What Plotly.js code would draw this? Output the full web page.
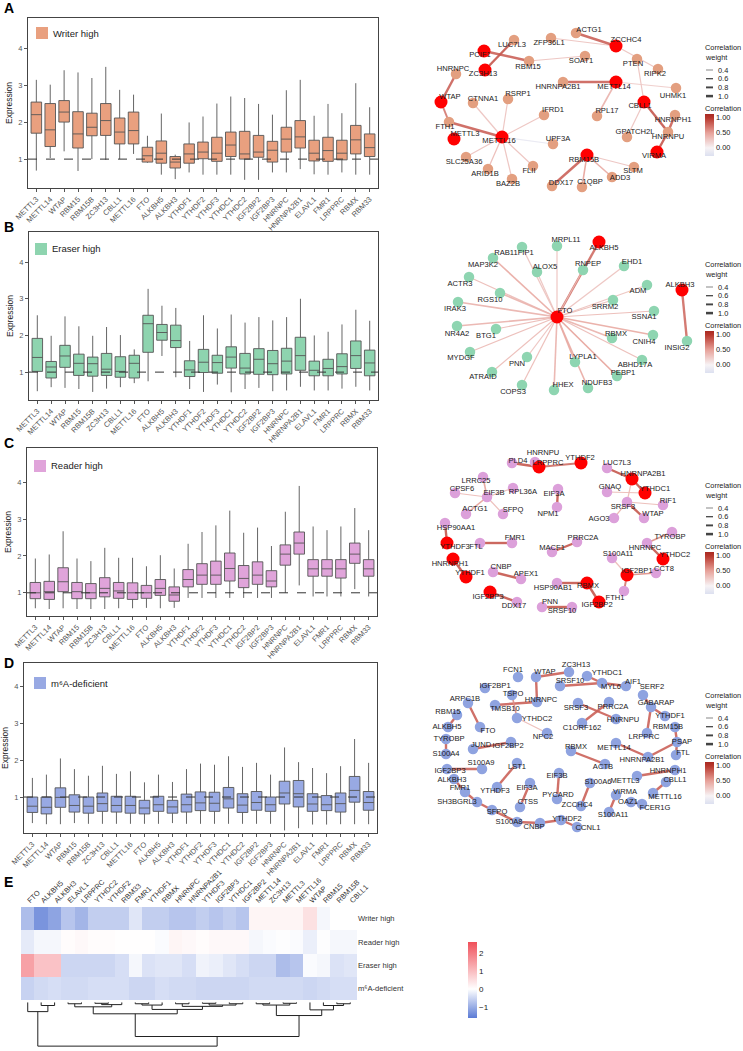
<!DOCTYPE html>
<html><head><meta charset="utf-8">
<script src="https://cdn.plot.ly/plotly-3.0.1.min.js"></script>
<style>html,body{margin:0;padding:0;background:#fff}#plot{width:743px;height:1051px}</style>
</head><body><div id="plot"></div>
<script>
const W=743,H=1051;
const genes=['METTL3','METTL14','WTAP','RBM15','RBM15B','ZC3H13','CBLL1','METTL16','FTO','ALKBH5','ALKBH3','YTHDF1','YTHDF2','YTHDF3','YTHDC1','YTHDC2','IGF2BP2','IGF2BP3','HNRNPC','HNRNPA2B1','ELAVL1','FMR1','LRPPRC','RBMX','RBM33'];

// A: Writer high
const writerLow =[0.69,1.03,1.21,0.68,1.0,0.98,1.0,1.14,0.9,0.58,0.46,0.64,0.58,0.58,0.58,0.44,0.44,0.64,0.64,0.73,0.59,0.58,0.64,0.58,0.58];
const writerQ1  =[1.70,1.34,2.00,1.30,1.63,1.64,1.41,1.41,0.92,0.89,0.76,0.89,1.01,0.94,1.07,1.0,1.05,0.92,1.19,1.30,0.95,0.94,0.98,1.14,1.07];
const writerMed =[2.20,1.79,2.27,1.68,1.86,2.04,1.73,1.77,1.09,1.16,0.92,1.14,1.19,1.16,1.38,1.14,1.19,1.24,1.54,1.60,1.16,1.23,1.16,1.52,1.31];
const writerQ3  =[2.54,2.50,2.58,2.28,2.24,2.50,2.11,2.27,1.32,1.49,1.07,1.41,1.46,1.59,1.73,1.75,1.64,1.48,1.86,2.04,1.51,1.59,1.51,1.91,1.68];
const writerHigh=[3.14,3.01,3.40,3.34,3.19,3.49,2.87,2.74,1.63,2.23,1.12,1.99,2.15,2.50,2.69,2.65,2.49,2.20,2.86,3.14,2.17,2.49,2.24,3.05,2.40];
// B: Eraser high
const eraserLow =[0.48,0.59,0.57,0.54,0.46,0.55,0.59,0.70,0.75,1.44,0.86,0.54,0.46,0.66,0.45,0.54,0.57,0.48,0.5,0.6,0.5,0.5,0.55,0.6,0.5];
const eraserQ1  =[1.02,0.84,1.13,0.91,0.89,0.91,0.86,0.84,1.54,1.87,1.67,0.88,0.99,0.97,1.11,0.95,0.94,0.93,0.95,1.05,0.9,0.9,0.95,1.1,0.9];
const eraserMed =[1.40,1.14,1.44,1.24,1.23,1.08,1.02,1.24,2.32,2.08,1.86,1.06,1.27,1.26,1.41,1.11,1.35,1.23,1.3,1.45,1.05,1.1,1.15,1.45,1.25];
const eraserQ3  =[1.92,1.29,1.73,1.49,1.41,1.51,1.42,1.46,2.55,2.30,2.28,1.31,1.62,1.46,1.69,1.51,1.64,1.59,1.65,1.95,1.3,1.35,1.5,1.85,1.6];
const eraserHigh=[2.55,1.99,2.52,2.25,1.99,2.23,2.01,1.62,3.27,2.81,2.75,1.85,2.55,2.19,2.57,2.35,2.50,2.41,2.5,3.0,2.0,2.1,2.3,2.7,2.4];
// C: Reader high
const readerLow =[0.58,0.56,0.58,0.56,0.56,0.56,0.58,0.58,0.59,0.58,0.59,0.86,0.86,0.86,0.86,0.86,0.86,0.86,1.0,1.2,0.9,0.9,0.9,1.1,0.9];
const readerQ1  =[0.84,0.82,1.03,0.84,0.84,0.89,0.85,0.82,0.85,0.93,0.77,1.16,1.23,1.23,1.32,1.14,1.23,1.16,1.75,2.05,1.45,1.45,1.4,1.8,1.45];
const readerMed =[1.0,1.03,1.30,1.03,1.0,1.12,1.05,1.0,1.0,1.12,0.94,1.36,1.48,1.48,1.66,1.39,1.48,1.32,2.05,2.35,1.65,1.65,1.65,2.05,1.65];
const readerQ3  =[1.28,1.31,1.68,1.28,1.25,1.41,1.28,1.27,1.20,1.36,1.16,1.63,1.79,1.86,2.08,1.74,1.84,1.60,2.3,2.65,1.9,1.9,1.9,2.35,1.9];
const readerHigh=[1.93,2.04,2.67,1.93,1.86,2.22,1.95,1.95,1.72,2.02,1.66,2.33,2.65,2.83,3.23,2.63,2.77,2.27,3.2,3.9,2.8,2.7,2.8,3.3,2.7];
// D: m6A-deficient
const defLow =[0.29,0.26,0.26,0.29,0.27,0.27,0.27,0.27,0.27,0.27,0.29,0.27,0.27,0.27,0.27,0.27,0.27,0.27,0.09,0.15,0.25,0.25,0.26,0.26,0.26];
const defQ1  =[0.58,0.54,0.72,0.59,0.56,0.61,0.59,0.56,0.54,0.61,0.56,0.59,0.63,0.61,0.70,0.58,0.64,0.61,0.81,0.73,0.61,0.63,0.59,0.86,0.64];
const defMed =[0.75,0.72,0.99,0.77,0.75,0.82,0.77,0.77,0.70,0.79,0.73,0.79,0.84,0.83,0.95,0.78,0.85,0.79,1.11,1.09,0.81,0.79,0.82,1.18,0.85];
const defQ3  =[1.0,1.0,1.25,1.06,1.0,1.11,1.02,1.02,0.91,1.02,0.91,1.08,1.14,1.13,1.26,1.09,1.15,1.0,1.43,1.45,1.09,1.04,1.11,1.56,1.15];
const defHigh=[1.52,1.61,2.05,1.76,1.58,1.85,1.63,1.70,1.40,1.61,1.41,1.76,1.91,1.88,2.11,1.82,1.93,1.61,2.35,1.95,1.79,1.65,1.84,2.58,1.93];

// E: heatmap
const hmCols=['FTO','ALKBH5','ALKBH3','ELAVL1','LRPPRC','YTHDC2','YTHDF2','RBM33','FMR1','YTHDF1','RBMX','HNRNPC','HNRNPA2B1','YTHDF3','IGF2BP3','YTHDC1','IGF2BP2','METTL14','ZC3H13','METTL3','METTL16','WTAP','RBM15','RBM15B','CBLL1'];
const hmRows=['Writer high','Reader high','Eraser high','m⁶A-deficient'];
const hmWriter=[-0.8,-1.3,-1.1,-0.7,-0.9,-0.6,-0.6,-0.6,-0.3,-0.6,-0.6,-0.7,-0.7,-0.6,-0.7,-0.6,-0.7,0.15,0.15,0.15,0.15,0.45,-0.1,0.0,0.0];
const hmReader=[-0.25,-0.1,-0.1,0.05,0.1,0.05,0.05,0.02,0.02,0.02,-0.05,0.15,0.1,0.05,0.1,0.1,0.1,-0.1,-0.05,-0.02,-0.05,-0.2,-0.02,-0.1,-0.1];
const hmEraser=[1.4,0.9,0.9,-0.5,-0.5,-0.5,-0.5,-0.4,-0.1,-0.35,-0.3,-0.3,-0.4,-0.15,-0.2,-0.3,-0.4,-0.5,-0.5,-0.8,-0.7,-0.05,-0.1,-0.35,-0.3];
const hmDef=[-0.55,-0.45,-0.4,-0.45,-0.45,-0.4,-0.4,-0.4,-0.5,-0.5,-0.4,-0.45,-0.45,-0.5,-0.5,-0.5,-0.5,-0.45,-0.45,-0.45,-0.45,-0.5,-0.45,-0.4,-0.4];
// dendrogram merges: [clusterA, clusterB, height]; leaves 0..24 in hmCols order, merge k -> id 25+k
const dendroMerges=[[1,2,0.07],[0,25,0.21],[3,4,0.03],[5,6,0.02],[28,7,0.05],[27,29,0.10],[8,9,0.03],[31,10,0.06],[11,12,0.03],[13,14,0.02],[15,16,0.03],[34,35,0.06],[33,36,0.09],[32,37,0.16],[30,38,0.26],[17,18,0.03],[19,20,0.02],[40,41,0.06],[23,24,0.03],[22,43,0.07],[21,44,0.17],[42,45,0.30],[39,46,0.78],[26,47,1.0]];

// Networks (layout coordinates)
const netA_names=['PCIF1','ZC3H13','LUC7L3','ZFP36L1','ACTG1','ZCCHC4','SOAT1','RBM15','PTEN','RIPK2','HNRNPC','WTAP','CTNNA1','RSRP1','HNRNPA2B1','METTL14','UHMK1','CBLL1','IFRD1','RPL17','HNRNPH1','FTH1','METTL3','METTL16','GPATCH2L','HNRNPU','UPF3A','VIRMA','RBM15B','SLC25A36','FLII','SLTM','ADD3','ARID1B','BAZ2B','DDX17','C1QBP'];
const netA_x=[484,485,514,551,576,616,585,529,637,658,456,441,473,508,563,616,676,644,544,597,675,449,454,502,627,668,553,657,587,466,533,634,612,488,512,552,582];
const netA_y=[51,70,40,38,33,46,56,61,59,69,74,102,103,99,82,82,88,102,115,116,115,122,139,137,137,132,144,152,155,157,166,167,177,169,179,186,187];
const netA_core=[1,1,0,0,0,1,0,0,0,0,0,1,0,0,0,1,0,1,0,0,0,0,1,1,0,0,0,1,1,0,0,0,0,0,0,0,0];
const netA_lx=[480,483,512,549,589,626,581,528,633,655,453,450,483,518,558,614,673,640,553,607,673,445,465,499,635,668,558,654,584,464,529,633,620,485,508,561,590];
const netA_ly=[55,74,45,43,30,40,61,67,64,74,69,97,99,94,87,87,96,106,110,111,120,127,134,141,132,137,139,156,160,162,171,171,178,174,184,183,182];
const netA_from=['PCIF1','ZC3H13','ZFP36L1','ACTG1','RBM15','ZCCHC4','PTEN','HNRNPC','WTAP','FTH1','METTL16','METTL16','METTL16','METTL16','METTL16','METTL16','METTL16','METTL16','HNRNPA2B1','METTL14','METTL14','CBLL1','HNRNPU','HNRNPU','CBLL1','RBM15B','RBM15B','RBM15B','RBM15B'];
const netA_to=['RBM15','LUC7L3','ZCCHC4','ZCCHC4','SOAT1','RIPK2','CBLL1','WTAP','FTH1','METTL16','CTNNA1','RSRP1','IFRD1','UPF3A','SLC25A36','ARID1B','BAZ2B','FLII','METTL14','UHMK1','RPL17','HNRNPU','HNRNPH1','VIRMA','GPATCH2L','DDX17','C1QBP','ADD3','SLTM'];
const netA_corr=[0.8,0.85,0.3,0.8,0.3,0.3,0.3,0.8,0.7,0.8,0.3,0.3,0.3,-0.15,0.3,0.35,0.3,0.3,0.8,0.25,0.4,0.85,0.8,0.85,0.3,0.8,0.5,0.45,0.3];
const netA_weight=[0.8,0.8,0.5,0.8,0.5,0.5,0.5,0.8,0.7,0.8,0.5,0.5,0.5,0.5,0.5,0.5,0.5,0.5,0.8,0.5,0.6,0.8,0.8,0.8,0.5,0.8,0.6,0.6,0.5];

const netB_names=['FTO','ALKBH5','ALKBH3','INSIG2','MRPL11','RAB11FIP1','MAP3K2','ALOX5','RNPEP','EHD1','ACTR3','RGS10','ADM','SRRM2','IRAK3','SSNA1','NR4A2','BTG1','RBMX','CNIH4','MYDGF','PNN','LYPLA1','ABHD17A','PEBP1','ATRAID','HHEX','NDUFB3','COPS3'];
const netB_x=[557,599,682,687,557,522,493,537,583,624,469,500,647,613,458,654,457,496,612,653,470,527,575,642,617,492,554,588,522];
const netB_y=[317,242,290,341,246,247,258,272,270,266,277,293,285,300,302,311,326,329,338,335,352,357,362,360,376,372,390,388,385];
const netB_core=[1,1,1,0,0,0,0,0,0,0,0,0,0,0,0,0,0,0,0,0,0,0,0,0,0,0,0,0,0];
const netB_lx=[565,604,680,677,566,514,483,545,588,632,460,490,638,605,455,644,457,486,616,644,461,517,583,635,623,483,563,597,513];
const netB_ly=[311,248,285,348,240,253,265,267,264,262,284,300,291,307,309,317,334,336,334,342,358,364,357,365,373,377,385,383,392];
const netB_from=['FTO','ALKBH3','FTO','FTO','FTO','FTO','FTO','FTO','FTO','FTO','FTO','FTO','FTO','FTO','FTO','FTO','FTO','FTO','FTO','FTO','FTO','FTO','FTO','FTO','FTO','FTO','FTO'];
const netB_to=['ALKBH5','INSIG2','MRPL11','RAB11FIP1','MAP3K2','ALOX5','RNPEP','EHD1','ACTR3','RGS10','ADM','SRRM2','IRAK3','SSNA1','NR4A2','BTG1','RBMX','CNIH4','MYDGF','PNN','LYPLA1','ABHD17A','PEBP1','ATRAID','HHEX','NDUFB3','COPS3'];
const netB_corr=[0.75,0.75,0.3,0.3,0.45,0.3,0.35,0.3,0.35,0.4,0.3,0.35,0.4,0.35,0.4,0.35,0.4,0.45,0.35,0.3,0.45,0.35,0.5,0.35,0.4,0.45,0.35];
const netB_weight=[0.8,0.8,0.5,0.5,0.6,0.5,0.5,0.5,0.5,0.6,0.5,0.5,0.6,0.5,0.6,0.5,0.6,0.6,0.5,0.5,0.6,0.5,0.6,0.5,0.6,0.6,0.5];

const netC_names=['HNRNPU','LRPPRC','YTHDF2','PLD4','LUC7L3','HNRNPA2B1','YTHDC1','LRRC25','RPL36A','EIF3A','CPSF6','EIF3B','GNAQ','SRSF3','RIF1','ACTG1','SFPQ','NPM1','WTAP','AGO3','HSP90AA1','YTHDF3','FTL','FMR1','PRRC2A','MACF1','TYROBP','HNRNPC','YTHDC2','HNRNPH1','S100A11','IGF2BP1','CCT8','CNBP','APEX1','YTHDF1','HSP90AB1','RBMX','FTH1','IGF2BP3','IGF2BP2','DDX17','PNN','SRSF10'];
const netC_x=[535,539,581,512,607,632,645,483,513,558,455,487,607,627,663,466,503,557,644,614,445,447,480,512,577,552,672,647,663,453,612,627,656,493,521,466,557,587,624,490,599,517,542,572];
const netC_y=[462,467,463,463,468,479,493,477,488,489,493,497,492,502,505,514,514,507,518,518,523,543,543,543,542,552,532,543,559,559,558,575,573,572,579,577,583,583,591,592,602,602,607,607];
const netC_core=[0,1,1,0,0,1,1,0,0,0,0,0,0,0,0,0,0,0,0,0,0,1,0,0,0,0,0,0,1,1,0,1,0,0,0,1,0,1,0,1,1,0,0,0];
const netC_lx=[543,548,580,518,617,643,655,476,523,554,462,494,610,623,668,475,513,548,653,599,456,455,476,515,583,552,670,645,675,450,618,637,664,501,526,470,553,588,615,488,597,514,550,562];
const netC_ly=[453,463,458,461,463,474,489,481,492,494,489,493,487,507,501,509,510,514,514,519,528,547,547,538,538,548,537,548,555,564,554,571,569,567,574,573,588,586,598,597,605,606,602,611];
const netC_from=['PLD4','LRPPRC','LUC7L3','HNRNPA2B1','GNAQ','SRSF3','SRSF3','SRSF3','HNRNPA2B1','EIF3B','EIF3B','EIF3B','EIF3B','EIF3B','EIF3A','HSP90AA1','FTL','HNRNPH1','CNBP','PRRC2A','TYROBP','HNRNPC','IGF2BP1','S100A11','IGF2BP1','IGF2BP3','HSP90AB1','RBMX','PNN'];
const netC_to=['LRPPRC','YTHDF2','HNRNPA2B1','YTHDC1','YTHDC1','RIF1','WTAP','AGO3','SRSF3','CPSF6','LRRC25','RPL36A','ACTG1','SFPQ','NPM1','YTHDF3','FMR1','YTHDF1','APEX1','MACF1','HNRNPC','YTHDC2','CCT8','IGF2BP1','FTH1','DDX17','RBMX','IGF2BP2','SRSF10'];
const netC_corr=[0.85,0.75,0.85,0.85,0.35,0.35,0.85,0.4,0.35,0.35,0.5,0.35,0.5,0.35,0.85,0.85,0.85,0.85,0.85,0.85,0.6,0.85,0.6,0.35,0.7,0.85,0.85,0.85,0.85];
const netC_weight=[0.8,0.7,0.8,0.8,0.5,0.5,0.8,0.5,0.5,0.5,0.6,0.5,0.6,0.5,0.8,0.8,0.8,0.8,0.8,0.8,0.6,0.8,0.6,0.5,0.7,0.8,0.8,0.8,0.8];

const netD_names=['FCN1','WTAP','ZC3H13','YTHDC1','IGF2BP1','SRSF10','MYL6','AIF1','SERF2','TSPO','ARPC1B','TMSB10','HNRNPC','SRSF3','PRRC2A','GABARAP','YTHDF1','RBM15','YTHDC2','HNRNPU','RBM15B','ALKBH5','FTO','C1ORF162','NPC2','LRPPRC','TYROBP','PSAP','JUND','IGF2BP2','RBMX','METTL14','S100A4','FTL','HNRNPA2B1','S100A9','LST1','ACTB','IGF2BP3','HNRNPH1','EIF3B','METTL3','ALKBH3','CBLL1','YTHDF3','EIF3A','S100A6','FMR1','VIRMA','METTL16','PYCARD','OAZ1','SH3BGRL3','CTSS','FCER1G','ZCCHC4','S100A11','SFPQ','YTHDF2','S100A8','CNBP','CCNL1'];
const netD_x=[518,536,569,587,485,560,602,626,643,512,468,495,537,578,609,651,665,457,517,616,675,448,480,582,547,647,446,677,473,511,571,616,446,676,648,482,517,605,447,675,559,637,454,666,497,530,590,465,616,653,557,631,477,520,642,581,609,492,561,517,540,577];
const netD_y=[677,677,672,676,688,686,683,686,695,695,703,705,702,703,702,707,716,715,718,719,727,727,727,723,733,733,739,742,749,742,751,743,754,755,757,769,763,764,769,770,773,776,779,782,787,783,783,792,795,793,799,802,802,807,804,806,812,810,820,822,823,827];
const netD_lx=[513,545,576,607,495,570,611,633,652,513,465,505,541,576,613,656,670,448,537,623,668,447,488,582,543,644,449,682,481,508,576,614,446,683,642,481,517,603,450,668,557,625,452,675,495,527,598,460,625,665,558,628,457,528,655,577,613,497,567,509,534,588];
const netD_ly=[670,672,665,673,686,681,687,682,687,694,699,709,700,708,707,703,716,712,719,720,727,727,731,728,737,737,739,742,745,746,747,748,754,753,760,763,767,767,771,771,776,781,780,780,791,788,782,788,792,797,795,802,802,802,808,805,815,812,819,822,827,828];
const netD_from=['WTAP','WTAP','SRSF10','YTHDC1','MYL6','TMSB10','TSPO','YTHDC2','ARPC1B','RBM15','TYROBP','SRSF3','PRRC2A','GABARAP','GABARAP','SERF2','RBM15B','PSAP','HNRNPA2B1','METTL14','RBMX','JUND','IGF2BP3','LST1','ALKBH3','FMR1','SH3BGRL3','SFPQ','S100A8','CNBP','YTHDF2','EIF3A','EIF3B','S100A6','METTL3','CBLL1','VIRMA','OAZ1'];
const netD_to=['ZC3H13','HNRNPC','MYL6','MYL6','AIF1','HNRNPC','YTHDC2','NPC2','FTO','ALKBH5','S100A4','HNRNPU','C1ORF162','YTHDF1','LRPPRC','GABARAP','PSAP','FTL','PSAP','HNRNPA2B1','ACTB','IGF2BP2','S100A9','YTHDF3','FMR1','SH3BGRL3','SFPQ','S100A8','CNBP','YTHDF2','CCNL1','CTSS','PYCARD','ZCCHC4','HNRNPH1','METTL16','S100A11','FCER1G'];
const netD_corr=[0.8,0.8,0.8,0.8,0.8,0.8,0.6,0.35,0.8,0.8,0.8,0.8,0.8,0.8,0.8,0.8,0.8,0.8,0.8,0.8,0.8,0.8,0.8,0.8,0.8,0.8,0.8,0.8,0.8,0.8,0.8,0.8,0.8,0.8,0.8,0.8,0.8,0.8];
const netD_weight=[0.8,0.8,0.8,0.8,0.8,0.8,0.6,0.5,0.8,0.8,0.8,0.8,0.8,0.8,0.8,0.8,0.8,0.8,0.8,0.8,0.8,0.8,0.8,0.8,0.8,0.8,0.8,0.8,0.8,0.8,0.8,0.8,0.8,0.8,0.8,0.8,0.8,0.8];
const weightLegend=[0.4,0.6,0.8,1.0];

// ---------- drawing ----------
const P=x=>x/W, Q=y=>1-y/H;
const FONT='Liberation Sans, Arial, sans-serif';
const traces=[];
const layout={width:W,height:H,margin:{l:0,r:0,t:0,b:0},paper_bgcolor:'#fff',plot_bgcolor:'rgba(0,0,0,0)',
  showlegend:false,font:{family:FONT,size:8,color:'#333'},shapes:[],annotations:[]};
function ann(text,x,y,o){layout.annotations.push(Object.assign({text:text,x:P(x),y:Q(y),xref:'paper',yref:'paper',showarrow:false,xanchor:'left',yanchor:'middle',font:{family:FONT,size:8,color:'#222'}},o||{}));}

const boxPanels=[
 {letter:'A',name:'Writer high',fill:'#E9A07F',lo:writerLow,q1:writerQ1,med:writerMed,q3:writerQ3,hi:writerHigh,frame:[28,18,378,188],yr:[0.22,4.81],sw:[36,27],ly:8},
 {letter:'B',name:'Eraser high',fill:'#8ED4AF',lo:eraserLow,q1:eraserQ1,med:eraserMed,q3:eraserQ3,hi:eraserHigh,frame:[29,232,378,400],yr:[0.24,4.82],sw:[35,243],ly:227},
 {letter:'C',name:'Reader high',fill:'#E0A4DA',lo:readerLow,q1:readerQ1,med:readerMed,q3:readerQ3,hi:readerHigh,frame:[27,448,377,616],yr:[0.37,4.93],sw:[34,460],ly:443},
 {letter:'D',name:'m⁶A-deficient',fill:'#98A9E3',lo:defLow,q1:defQ1,med:defMed,q3:defQ3,hi:defHigh,frame:[24,663,377,833],yr:[0.02,4.65],sw:[34,677],ly:663}
];
boxPanels.forEach((p,i)=>{
  const n=i+1, sx=n===1?'':String(n), xa='x'+sx, ya='y'+sx;
  traces.push({type:'box',xaxis:xa,yaxis:ya,x:genes,q1:p.q1,median:p.med,q3:p.q3,lowerfence:p.lo,upperfence:p.hi,
    fillcolor:p.fill,line:{color:'#555',width:0.9},whiskerwidth:0,width:0.76,boxpoints:false,hoverinfo:'skip'});
  layout['xaxis'+sx]={domain:[P(p.frame[0]),P(p.frame[2])],anchor:ya,type:'category',categoryorder:'array',categoryarray:genes,
    range:[-0.6,24.6],tickangle:-45,tickfont:{family:FONT,size:7.5,color:'#555'},showline:true,mirror:true,linecolor:'#444',linewidth:1,
    ticks:'outside',ticklen:3,tickcolor:'#555',showgrid:false,zeroline:false};
  layout['yaxis'+sx]={domain:[Q(p.frame[3]),Q(p.frame[1])],anchor:xa,range:p.yr,tickvals:[1,2,3,4],tickfont:{family:FONT,size:7.5,color:'#555'},
    showline:true,mirror:true,linecolor:'#444',linewidth:1,ticks:'outside',ticklen:3,tickcolor:'#555',showgrid:false,zeroline:false,
    title:{text:'Expression',font:{family:FONT,size:8.5,color:'#222'},standoff:4}};
  layout.shapes.push({type:'line',xref:xa+' domain',yref:ya,x0:0,x1:1,y0:1,y1:1,line:{color:'#333',width:1,dash:'dash'},layer:'above'});
  layout.shapes.push({type:'rect',xref:'paper',yref:'paper',x0:P(p.sw[0]),x1:P(p.sw[0]+12),y0:Q(p.sw[1]+12),y1:Q(p.sw[1]),fillcolor:p.fill,line:{width:0}});
  ann(p.name,p.sw[0]+15,p.sw[1]+6,{font:{family:FONT,size:9.5,color:'#222'}});
  ann('<b>'+p.letter+'</b>',2,p.ly,{font:{family:FONT,size:14,color:'#000'}});
});

// edge colour scale
const corrStops=[[-0.27,[220,224,240]],[0,[247,243,245]],[0.5,[231,162,154]],[1.0,[184,56,46]],[1.13,[168,42,34]]];
function corrColor(v){
  if(v<=corrStops[0][0])return 'rgb('+corrStops[0][1].join(',')+')';
  for(let i=1;i<corrStops.length;i++){const a=corrStops[i-1],b=corrStops[i];
    if(v<=b[0]){const t=(v-a[0])/(b[0]-a[0]);return 'rgb('+a[1].map((c,k)=>Math.round(c+(b[1][k]-c)*t)).join(',')+')';}}
  return 'rgb('+corrStops[corrStops.length-1][1].join(',')+')';
}
const corrScale=corrStops.map(s=>[(s[0]+0.27)/1.4,'rgb('+s[1].join(',')+')']);
const widthOf=w=>4*w-0.8;

const nets=[
 {names:netA_names,x:netA_x,y:netA_y,core:netA_core,lx:netA_lx,ly:netA_ly,from:netA_from,to:netA_to,corr:netA_corr,w:netA_weight,col:'#E39F80',yr:[0,205],leg:47},
 {names:netB_names,x:netB_x,y:netB_y,core:netB_core,lx:netB_lx,ly:netB_ly,from:netB_from,to:netB_to,corr:netB_corr,w:netB_weight,col:'#8ED5B1',yr:[215,420],leg:264},
 {names:netC_names,x:netC_x,y:netC_y,core:netC_core,lx:netC_lx,ly:netC_ly,from:netC_from,to:netC_to,corr:netC_corr,w:netC_weight,col:'#DCA0DA',yr:[430,635],leg:485},
 {names:netD_names,x:netD_x,y:netD_y,core:null,lx:netD_lx,ly:netD_ly,from:netD_from,to:netD_to,corr:netD_corr,w:netD_weight,col:'#8FA3E0',yr:[645,850],leg:695}
];
nets.forEach((nt,i)=>{
  const n=5+i, xa='x'+n, ya='y'+n;
  layout['xaxis'+n]={domain:[P(390),P(700)],range:[390,700],anchor:ya,visible:false,fixedrange:true};
  layout['yaxis'+n]={domain:[Q(nt.yr[1]),Q(nt.yr[0])],range:[nt.yr[1],nt.yr[0]],anchor:xa,visible:false,fixedrange:true};
  const idx={}; nt.names.forEach((nm,k)=>idx[nm]=k);
  nt.from.forEach((f,k)=>{const a=idx[f],b=idx[nt.to[k]];
    traces.push({type:'scatter',mode:'lines',xaxis:xa,yaxis:ya,x:[nt.x[a],nt.x[b]],y:[nt.y[a],nt.y[b]],
      line:{color:corrColor(nt.corr[k]),width:widthOf(nt.w[k])},opacity:0.9,hoverinfo:'skip'});});
  const isCore=k=>nt.core?nt.core[k]===1:false;
  const plain=nt.names.map((_,k)=>k).filter(k=>!isCore(k)), core=nt.names.map((_,k)=>k).filter(k=>isCore(k));
  traces.push({type:'scatter',mode:'markers',xaxis:xa,yaxis:ya,x:plain.map(k=>nt.x[k]),y:plain.map(k=>nt.y[k]),
    marker:{size:10.5,color:nt.col,line:{width:0}},hoverinfo:'skip'});
  if(core.length)traces.push({type:'scatter',mode:'markers',xaxis:xa,yaxis:ya,x:core.map(k=>nt.x[k]),y:core.map(k=>nt.y[k]),
    marker:{size:13,color:'#FF0000',line:{width:0}},hoverinfo:'skip'});
  traces.push({type:'scatter',mode:'text',xaxis:xa,yaxis:ya,x:nt.lx,y:nt.ly,text:nt.names,textposition:'middle center',
    textfont:{family:FONT,size:7.6,color:'#1a1a1a'},hoverinfo:'skip',cliponaxis:false});
  // legend
  const lx=703, y0=nt.leg, lf={family:FONT,size:7.4,color:'#222'};
  ann('Correlation',lx,y0,{font:lf});
  ann('weight',lx,y0+10,{font:lf});
  weightLegend.forEach((w,k)=>{const yy=y0+23+k*8.7;
    layout.shapes.push({type:'line',xref:'paper',yref:'paper',x0:P(lx+3),x1:P(lx+10),y0:Q(yy),y1:Q(yy),line:{color:'#444',width:widthOf(w)*0.8}});
    ann(w.toFixed(1),lx+13,yy,{font:lf});});
  ann('Correlation',lx,y0+61,{font:lf});
  traces.push({type:'scatter',mode:'markers',xaxis:xa,yaxis:ya,x:[nt.x[0]],y:[nt.y[0]],hoverinfo:'skip',
    marker:{size:1,opacity:0,color:[0.5],cmin:-0.27,cmax:1.13,colorscale:corrScale,showscale:true,
      colorbar:{x:P(lx+2),xanchor:'left',xpad:0,ypad:0,y:Q(y0+67),yanchor:'top',len:42,lenmode:'pixels',thickness:9,
        outlinewidth:0,tickvals:[0,0.5,1],ticktext:['0.00','0.50','1.00'],ticks:'',tickfont:{family:FONT,size:7.4,color:'#222'}}}});
});

// heatmap
const HM=[21,907,357,1000];
layout.xaxis9={domain:[P(HM[0]),P(HM[2])],anchor:'y9',side:'top',type:'category',tickangle:-45,tickfont:{family:FONT,size:7.3,color:'#333'},
  ticks:'',showline:false,showgrid:false,zeroline:false,range:[-0.5,24.5]};
layout.yaxis9={domain:[Q(HM[3]),Q(HM[1])],anchor:'x9',side:'right',autorange:'reversed',type:'category',tickfont:{family:FONT,size:7.6,color:'#333'},
  ticks:'',showline:false,showgrid:false,zeroline:false};
traces.push({type:'heatmap',xaxis:'x9',yaxis:'y9',x:hmCols,y:hmRows,z:[hmWriter,hmReader,hmEraser,hmDef],zmin:-1.6,zmax:2.6,
  colorscale:[[0,'#5B7BD5'],[1.6/4.2,'#FFFFFF'],[1,'#F0505A']],xgap:0,ygap:0,hoverinfo:'skip',
  colorbar:{x:P(468),xanchor:'left',xpad:0,ypad:0,y:Q(942),yanchor:'top',len:76,lenmode:'pixels',thickness:9,outlinewidth:0,
    tickvals:[-1,0,1,2],ticks:'',tickfont:{family:FONT,size:8,color:'#222'}}});
ann('<b>E</b>',2,882,{font:{family:FONT,size:14,color:'#000'}});

// dendrogram
(function(){
  const n=hmCols.length,pos=[],hh=[],xs=[],ys=[];
  for(let i=0;i<n;i++){pos[i]=i;hh[i]=0;}
  dendroMerges.forEach((m,k)=>{const a=m[0],b=m[1],h=m[2],id=n+k;
    xs.push(pos[a],pos[a],pos[b],pos[b],null);ys.push(hh[a],h,h,hh[b],null);
    pos[id]=(pos[a]+pos[b])/2;hh[id]=h;});
  layout.xaxis10={domain:[P(HM[0]),P(HM[2])],range:[-0.5,24.5],anchor:'y10',visible:false};
  layout.yaxis10={domain:[Q(1047),Q(1002)],range:[1.02,-0.01],anchor:'x10',visible:false};
  traces.push({type:'scatter',mode:'lines',xaxis:'x10',yaxis:'y10',x:xs,y:ys,line:{color:'#222',width:1},hoverinfo:'skip'});
})();

Plotly.newPlot('plot',traces,layout,{staticPlot:true,displayModeBar:false});
</script></body></html>
